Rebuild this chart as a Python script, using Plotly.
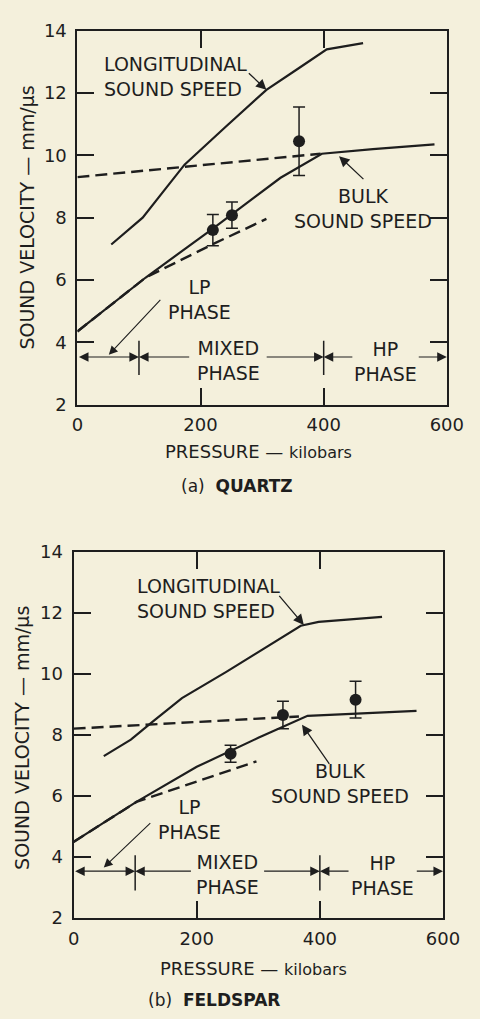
import plotly.graph_objects as go

# ---------------- data ----------------
# (a) QUARTZ
q_long_p = [55, 106, 140, 174, 240, 307, 360, 405, 464]
q_long_v = [7.14, 8.0, 8.85, 9.7, 10.9, 12.1, 12.8, 13.4, 13.6]
q_bulk_p = [0, 111, 220, 330, 397, 480, 580]
q_bulk_v = [4.35, 6.08, 7.65, 9.28, 10.05, 10.2, 10.35]
q_dash_hi_p = [0, 395]
q_dash_hi_v = [9.3, 10.05]
q_dash_lo_p = [0, 111, 220, 307]
q_dash_lo_v = [4.35, 6.08, 7.15, 7.96]
q_pts_p = [220, 251, 360]
q_pts_v = [7.6, 8.08, 10.45]
q_pts_err = [0.5, 0.42, 1.1]

# (b) FELDSPAR
f_long_p = [49, 93, 129, 176, 248, 300, 369, 398, 501]
f_long_v = [7.3, 7.84, 8.44, 9.2, 10.06, 10.71, 11.57, 11.7, 11.86]
f_bulk_p = [0, 102, 200, 257, 300, 380, 557]
f_bulk_v = [4.49, 5.8, 6.95, 7.5, 7.9, 8.62, 8.78]
f_dash_hi_p = [0, 366]
f_dash_hi_v = [8.2, 8.6]
f_dash_lo_p = [0, 102, 297]
f_dash_lo_v = [4.49, 5.8, 7.13]
f_pts_p = [255, 340, 458]
f_pts_v = [7.38, 8.65, 9.15]
f_pts_err = [0.28, 0.45, 0.6]

phase_bounds = [100, 400]
x_ticks = [0, 200, 400, 600]
y_ticks = [2, 4, 6, 8, 10, 12, 14]

# ---------------- style ----------------
INK = "#1e1e1e"
BG = "#f4f0dc"
FONT = "DejaVu Sans"
W, H = 480, 1019

fig = go.Figure()


def add_panel(xa, ya, lp, lv, bp, bv, dhp, dhv, dlp, dlv, pp, pv, pe):
    kw = dict(xaxis=xa, yaxis=ya, mode="lines", showlegend=False, hoverinfo="skip")
    fig.add_trace(go.Scatter(x=lp, y=lv, line=dict(color=INK, width=2.2), **kw))
    fig.add_trace(go.Scatter(x=bp, y=bv, line=dict(color=INK, width=2.2), **kw))
    fig.add_trace(go.Scatter(x=dhp, y=dhv, line=dict(color=INK, width=2.4, dash="12px,6px"), **kw))
    fig.add_trace(go.Scatter(x=dlp, y=dlv, line=dict(color=INK, width=2.4, dash="12px,6px"), **kw))
    fig.add_trace(go.Scatter(
        x=pp, y=pv, xaxis=xa, yaxis=ya, mode="markers", showlegend=False,
        marker=dict(color=INK, size=12),
        error_y=dict(type="data", array=pe, color=INK, thickness=1.5, width=6)))


add_panel("x", "y", q_long_p, q_long_v, q_bulk_p, q_bulk_v, q_dash_hi_p, q_dash_hi_v,
          q_dash_lo_p, q_dash_lo_v, q_pts_p, q_pts_v, q_pts_err)
add_panel("x2", "y2", f_long_p, f_long_v, f_bulk_p, f_bulk_v, f_dash_hi_p, f_dash_hi_v,
          f_dash_lo_p, f_dash_lo_v, f_pts_p, f_pts_v, f_pts_err)

axis_common = dict(
    range=[0, 600], showgrid=False, zeroline=False, showline=True, mirror="ticks",
    linecolor=INK, linewidth=2, ticks="inside", ticklen=17, tickwidth=1.5,
    tickcolor=INK, tickfont=dict(family=FONT, size=18, color=INK),
)
xa = dict(axis_common, tickvals=x_ticks, ticklabelstandoff=3)
ya = dict(axis_common, range=[2, 14], tickvals=y_ticks, ticklabelstandoff=5)

fig.update_layout(
    width=W, height=H, margin=dict(l=0, r=0, t=0, b=0),
    paper_bgcolor=BG, plot_bgcolor=BG,
    xaxis=dict(xa, domain=[75 / W, 463 / W], anchor="y"),
    yaxis=dict(ya, domain=[1 - 402 / H, 1 - 20 / H], anchor="x"),
    xaxis2=dict(xa, domain=[71 / W, 459 / W], anchor="y2"),
    yaxis2=dict(ya, domain=[1 - 926 / H, 1 - 552 / H], anchor="x2"),
)

ann = []


def txt(xr, yr, x, y, text, xanchor="center", align="center", size=19):
    ann.append(dict(xref=xr, yref=yr, x=x, y=y, text=text, showarrow=False,
                    xanchor=xanchor, yanchor="middle", align=align,
                    font=dict(family=FONT, size=size, color=INK)))


def arrow(xr, yr, x, y, ax, ay, both=False, w=1.3):
    d = dict(xref=xr, yref=yr, axref=xr, ayref=yr, x=x, y=y, ax=ax, ay=ay,
             text="", showarrow=True, arrowhead=2, arrowsize=1.6, arrowwidth=w,
             arrowcolor=INK, standoff=0)
    if both:
        d.update(arrowside="end+start", startarrowhead=2, startarrowsize=1.6, startstandoff=0)
    ann.append(d)


def panel_notes(xr, yr, long_xy, long_arrow, bulk_xy, bulk_arrow, lp_xy, lp_arrow, mixed_xy, hp_xy,
                row_y, mixed_left_end, mixed_right_start, hp_left_end, hp_right_start):
    txt(xr, yr, long_xy[0], long_xy[1], "LONGITUDINAL<br>SOUND SPEED", xanchor="left", align="left")
    arrow(xr, yr, *long_arrow)
    txt(xr, yr, bulk_xy[0], bulk_xy[1], "BULK<br>SOUND SPEED")
    arrow(xr, yr, *bulk_arrow)
    txt(xr, yr, lp_xy[0], lp_xy[1], "LP<br>PHASE")
    arrow(xr, yr, *lp_arrow, w=1.1)
    txt(xr, yr, mixed_xy[0], mixed_xy[1], "MIXED<br>PHASE")
    txt(xr, yr, hp_xy[0], hp_xy[1], "HP<br>PHASE")
    # phase range arrows
    arrow(xr, yr, phase_bounds[0], row_y, 0, row_y, both=True, w=1.2)
    arrow(xr, yr, phase_bounds[0], row_y, mixed_left_end, row_y, w=1.2)
    arrow(xr, yr, phase_bounds[1], row_y, mixed_right_start, row_y, w=1.2)
    arrow(xr, yr, phase_bounds[1], row_y, hp_left_end, row_y, w=1.2)
    arrow(xr, yr, 600, row_y, hp_right_start, row_y, w=1.2)


panel_notes("x", "y", (40, 12.54), (307, 12.1, 276, 12.68), (464, 8.29), (425, 9.97, 467, 9.19),
            (199, 5.37), (51, 3.6, 137, 5.41), (245, 3.42), (500, 3.38),
            3.53, 184, 305, 449, 552)
panel_notes("x2", "y2", (99, 12.45), (374, 11.6, 332, 12.6), (433, 6.4), (371, 8.33, 417, 7.0),
            (189, 5.23), (49, 3.65, 127, 5.15), (250, 3.43), (501, 3.4),
            3.53, 193, 307, 449, 555)


def ptxt(px, py, text, size=18, angle=0):
    ann.append(dict(xref="paper", yref="paper", x=px / W, y=1 - py / H, text=text,
                    showarrow=False, xanchor="center", yanchor="middle", textangle=angle,
                    font=dict(family=FONT, size=size, color=INK)))


ptxt(265, 450, "PRESSURE — <span style='font-size:16px'>kilobars</span>")
ptxt(243, 485, "(a)  <b>QUARTZ</b>", size=17)
ptxt(22, 211, "SOUND VELOCITY — mm/μs", size=19, angle=-90)
ptxt(260, 978, "PRESSURE — <span style='font-size:16px'>kilobars</span>")
ptxt(218, 1010, "(b)  <b>FELDSPAR</b>", size=17)
ptxt(17, 742, "SOUND VELOCITY — mm/μs", size=19, angle=-90)

shapes = []
for xr, yr, y0, y1 in [("x", "y", 2.95, 4.05), ("x2", "y2", 2.9, 4.05)]:
    for b in phase_bounds:
        shapes.append(dict(type="line", xref=xr, yref=yr, x0=b, x1=b, y0=y0, y1=y1,
                           line=dict(color=INK, width=1.5)))

fig.update_layout(annotations=ann, shapes=shapes)
fig.write_html(
    "out.html",
    config={"displayModeBar": False},
    post_script="document.body.style.margin='0';document.body.style.background='%s';" % BG,
)
